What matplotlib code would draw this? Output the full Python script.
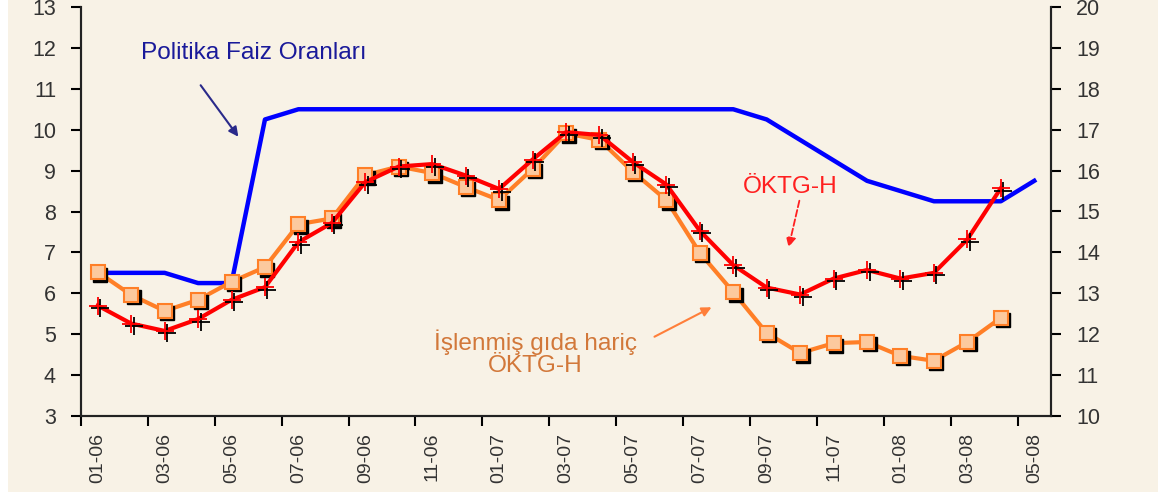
import matplotlib
matplotlib.use("Agg")
import matplotlib.pyplot as plt
import matplotlib.transforms as mtransforms
from matplotlib.patches import Rectangle
import numpy as np

plt.rcParams['font.family'] = ['Liberation Sans', 'DejaVu Sans']

# monthly categories 01-06 .. 05-08
months = ["01-06", "02-06", "03-06", "04-06", "05-06", "06-06", "07-06", "08-06",
          "09-06", "10-06", "11-06", "12-06", "01-07", "02-07", "03-07", "04-07",
          "05-07", "06-07", "07-07", "08-07", "09-07", "10-07", "11-07", "12-07",
          "01-08", "02-08", "03-08", "04-08", "05-08"]

# ÖKTG-H (left axis)
oktg_h = [5.7, 5.26, 5.08, 5.37, 5.84, 6.15, 7.25, 7.72, 8.72, 9.1, 9.16, 8.88,
          8.55, 9.27, 9.94, 9.87, 9.21, 8.66, 7.53, 6.69, 6.14, 5.97, 6.36, 6.57,
          6.36, 6.5, 7.32, 8.57]

# İşlenmiş gıda hariç ÖKTG-H (left axis)
oktg_h_ex = [6.52, 5.96, 5.57, 5.84, 6.28, 6.64, 7.69, 7.83, 8.89, 9.1, 8.94, 8.6,
             8.28, 9.04, 9.91, 9.75, 8.97, 8.28, 6.99, 6.03, 5.03, 4.54, 4.78, 4.81,
             4.47, 4.35, 4.81, 5.4]

# Politika faiz oranları (right axis)
policy = [13.5, 13.5, 13.5, 13.25, 13.25, 17.25, 17.5, 17.5, 17.5, 17.5, 17.5, 17.5,
          17.5, 17.5, 17.5, 17.5, 17.5, 17.5, 17.5, 17.5, 17.25, 16.75, 16.25, 15.75,
          15.5, 15.25, 15.25, 15.25, 15.75]

W, H = 1170, 492
bg = "#f8f2e6"
fig = plt.figure(figsize=(W / 100, H / 100), dpi=100, facecolor="white")
fig.patches.append(Rectangle((8 / W, 0), 1150 / W, 1, transform=fig.transFigure,
                             facecolor=bg, edgecolor="none", zorder=-10))

ax = fig.add_axes([81 / W, 1 - 416 / H, 970 / W, 409 / H])
ax.set_facecolor(bg)
ax2 = ax.twinx()
ax.set_zorder(2)
ax.patch.set_visible(False)

x = np.arange(len(months))
xo = np.arange(len(oktg_h))

# policy rate, right axis
ax2.plot(x, policy, color="#0000ff", lw=3.2, solid_joinstyle="round")
ax2.set_ylim(10, 20)

# black shadow offsets for markers
shadow = mtransforms.offset_copy(ax.transData, fig=fig, x=2.5, y=-2.5, units="dots")

ax.plot(xo, oktg_h_ex, color="#ff7f27", lw=3, zorder=3)
ax.plot(xo, oktg_h_ex, ls="none", marker="s", ms=10, color="black", transform=shadow, zorder=3.5)
ax.plot(xo, oktg_h_ex, ls="none", marker="s", ms=10, mfc="#fcc99e", mec="#ff7f27", mew=1.5, zorder=4)

ax.plot(xo, oktg_h, color="#ff0000", lw=3, zorder=5)
ax.plot(xo, oktg_h, ls="none", marker="+", ms=13, mew=1.3, color="black", transform=shadow, zorder=5.5)
ax.plot(xo, oktg_h, ls="none", marker="+", ms=13, mew=1.3, color="#ff0000", zorder=6)

ax.set_xlim(-0.5, len(months) - 0.5)
ax.set_ylim(3, 13)
ax.set_yticks(range(3, 14))
ax2.set_yticks(range(10, 21))

ax.set_xticks(np.arange(-0.5, len(months) - 1, 2))
ax.set_xticklabels([])
ax.set_xticks(x[::2], minor=True)
ax.set_xticklabels(months[::2], minor=True, rotation=90, fontsize=14, color="#333333")
ax.tick_params(axis="x", which="minor", length=0, pad=12)
ax.tick_params(axis="x", which="major", length=7, width=1.5, direction="out")
ax.tick_params(axis="y", length=7, width=1.5, labelsize=15.5, labelcolor="#333333", pad=11)
ax2.tick_params(axis="y", length=7, width=1.5, labelsize=15.5, labelcolor="#333333", pad=11)

for a in (ax, ax2):
    a.spines["top"].set_visible(False)
    for s in ("left", "right", "bottom"):
        a.spines[s].set_linewidth(1.5)
        a.spines[s].set_color("#222222")


def px(xp, yp):
    # figure pixel position measured from the top-left corner
    return (xp, H - yp)


# annotations
fig.text(254 / W, 1 - 53 / H, "Politika Faiz Oranları", fontsize=17.6,
         color="#1a1a9a", ha="center", va="center")
ax.annotate("", xy=px(240, 139), xytext=px(199, 83), xycoords="figure pixels",
            textcoords="figure pixels",
            arrowprops=dict(arrowstyle="-|>", color="#2a2a8a", lw=1.5, mutation_scale=14))

fig.text(790 / W, 1 - 187 / H, "ÖKTG-H", fontsize=17.6, color="#ff2020",
         ha="center", va="center")
ax.annotate("", xy=px(788, 250), xytext=px(800, 198), xycoords="figure pixels",
            textcoords="figure pixels",
            arrowprops=dict(arrowstyle="-|>", color="#ff2020", lw=1.3, ls="--", mutation_scale=14))

fig.text(535 / W, 1 - 353 / H, "İşlenmiş gıda hariç\nÖKTG-H", fontsize=17.6,
         color="#d2783a", ha="center", va="center", linespacing=1.0)
ax.annotate("", xy=px(714, 306), xytext=px(652, 338), xycoords="figure pixels",
            textcoords="figure pixels",
            arrowprops=dict(arrowstyle="-|>", color="#ff7f3a", lw=1.5, mutation_scale=14))

fig.savefig("out.png", dpi=100, facecolor=fig.get_facecolor())
